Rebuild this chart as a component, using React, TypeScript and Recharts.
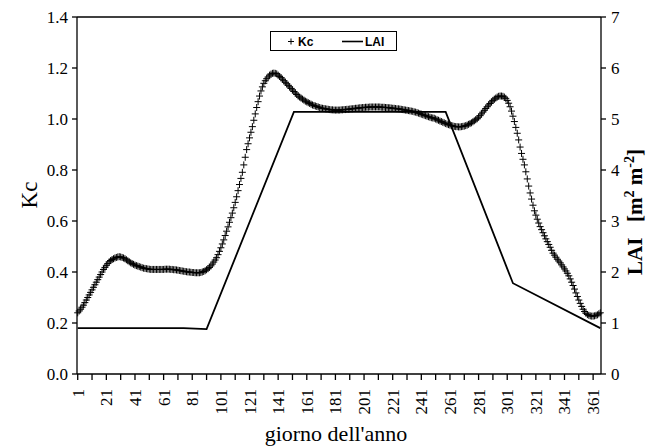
import React from 'react';
import { LineChart, Line, XAxis, YAxis, ReferenceLine, Label } from 'recharts';

// Kc, one value per day of the year (day 1 .. 366)
const kcValues: number[] = [
  0.240, 0.247, 0.254, 0.262, 0.270, 0.280, 0.290, 0.300, 0.310, 0.320,
  0.330, 0.340, 0.350, 0.360, 0.370, 0.380, 0.390, 0.400, 0.410, 0.418,
  0.426, 0.433, 0.440, 0.445, 0.449, 0.452, 0.455, 0.457, 0.459, 0.460,
  0.459, 0.457, 0.455, 0.452, 0.448, 0.444, 0.440, 0.436, 0.433, 0.430,
  0.427, 0.425, 0.423, 0.421, 0.419, 0.417, 0.415, 0.414, 0.413, 0.412,
  0.411, 0.410, 0.410, 0.410, 0.410, 0.410, 0.410, 0.410, 0.410, 0.410,
  0.410, 0.411, 0.411, 0.411, 0.411, 0.410, 0.410, 0.409, 0.409, 0.408,
  0.407, 0.406, 0.405, 0.404, 0.403, 0.402, 0.401, 0.400, 0.400, 0.399,
  0.398, 0.398, 0.397, 0.397, 0.397, 0.397, 0.398, 0.400, 0.402, 0.405,
  0.409, 0.413, 0.418, 0.424, 0.431, 0.439, 0.447, 0.456, 0.468, 0.481,
  0.495, 0.510, 0.526, 0.543, 0.560, 0.577, 0.595, 0.613, 0.631, 0.652,
  0.673, 0.695, 0.719, 0.743, 0.767, 0.791, 0.820, 0.850, 0.880, 0.903,
  0.926, 0.948, 0.970, 0.995, 1.020, 1.045, 1.068, 1.090, 1.110, 1.126,
  1.140, 1.150, 1.158, 1.165, 1.172, 1.176, 1.179, 1.180, 1.179, 1.177,
  1.172, 1.167, 1.162, 1.156, 1.150, 1.144, 1.138, 1.132, 1.126, 1.120,
  1.114, 1.108, 1.102, 1.096, 1.090, 1.086, 1.082, 1.078, 1.074, 1.070,
  1.067, 1.064, 1.061, 1.058, 1.055, 1.053, 1.051, 1.049, 1.047, 1.045,
  1.043, 1.042, 1.041, 1.040, 1.039, 1.038, 1.037, 1.036, 1.036, 1.035,
  1.035, 1.035, 1.035, 1.035, 1.036, 1.036, 1.037, 1.037, 1.038, 1.038,
  1.039, 1.040, 1.040, 1.041, 1.042, 1.042, 1.043, 1.044, 1.044, 1.045,
  1.045, 1.046, 1.046, 1.046, 1.047, 1.047, 1.047, 1.047, 1.047, 1.047,
  1.047, 1.047, 1.046, 1.046, 1.046, 1.045, 1.045, 1.044, 1.044, 1.043,
  1.042, 1.042, 1.041, 1.040, 1.040, 1.039, 1.038, 1.037, 1.036, 1.035,
  1.034, 1.033, 1.032, 1.031, 1.030, 1.028, 1.027, 1.025, 1.023, 1.021,
  1.019, 1.017, 1.015, 1.013, 1.011, 1.009, 1.007, 1.005, 1.004, 1.003,
  1.000, 0.997, 0.995, 0.992, 0.990, 0.987, 0.985, 0.982, 0.980, 0.978,
  0.976, 0.974, 0.973, 0.971, 0.970, 0.970, 0.969, 0.969, 0.970, 0.971,
  0.972, 0.974, 0.976, 0.979, 0.982, 0.985, 0.989, 0.993, 0.997, 1.001,
  1.007, 1.013, 1.020, 1.027, 1.034, 1.041, 1.048, 1.055, 1.061, 1.067,
  1.073, 1.078, 1.082, 1.086, 1.089, 1.090, 1.090, 1.089, 1.086, 1.081,
  1.073, 1.062, 1.048, 1.031, 1.011, 0.990, 0.967, 0.944, 0.918, 0.890,
  0.865, 0.842, 0.820, 0.793, 0.765, 0.737, 0.710, 0.686, 0.662, 0.640,
  0.623, 0.607, 0.592, 0.578, 0.566, 0.554, 0.542, 0.530, 0.519, 0.508,
  0.497, 0.485, 0.474, 0.466, 0.458, 0.450, 0.443, 0.436, 0.428, 0.420,
  0.412, 0.404, 0.395, 0.385, 0.373, 0.360, 0.347, 0.333, 0.318, 0.304,
  0.290, 0.277, 0.265, 0.254, 0.245, 0.238, 0.233, 0.230, 0.228, 0.227,
  0.227, 0.228, 0.230, 0.232, 0.236, 0.240,
];

// LAI break points (day of year, m2 m-2)
const laiDays: number[] = [1, 75, 91, 152, 258, 305, 366];
const laiValues: number[] = [0.9, 0.9, 0.88, 5.14, 5.14, 1.78, 0.9];

// axis ticks
const xTicks: number[] = [1, 11, 21, 31, 41, 51, 61, 71, 81, 91, 101, 111, 121, 131, 141, 151, 161, 171, 181, 191, 201, 211, 221, 231, 241, 251, 261, 271, 281, 291, 301, 311, 321, 331, 341, 351, 361];
const xLabelTicks: number[] = [1, 21, 41, 61, 81, 101, 121, 141, 161, 181, 201, 221, 241, 261, 281, 301, 321, 341, 361];
const kcTicks: number[] = [0, 0.2, 0.4, 0.6, 0.8, 1.0, 1.2, 1.4];
const laiTicks: number[] = [0, 1, 2, 3, 4, 5, 6, 7];

const data = kcValues.map((kc, i) => {
  const day = i + 1;
  const j = laiDays.indexOf(day);
  return { day, kc, lai: j >= 0 ? laiValues[j] : null };
});

const SERIF = 'Liberation Serif, Times New Roman, Times, serif';
const SANS = 'Liberation Sans, Arial, Helvetica, sans-serif';

const PlusDot = (props: any) => {
  const { cx, cy, index } = props;
  if (cx == null || cy == null) return <g key={`k${index}`} />;
  return (
    <path
      key={`k${index}`}
      d={`M${cx - 3.5},${cy}h7M${cx},${cy - 3.5}v7`}
      stroke="#000"
      strokeWidth={1}
      fill="none"
    />
  );
};

const YTick = (props: any) => {
  const { x, y, payload, textAnchor, formatter } = props;
  const label = formatter ? formatter(payload.value) : String(payload.value);
  return (
    <text
      x={x}
      y={y}
      dy="0.35em"
      textAnchor={textAnchor}
      fontSize={17}
      fill="#000"
      style={{ fontFamily: SERIF }}
    >
      {label}
    </text>
  );
};

const XTick = (props: any) => {
  const { x, y, payload } = props;
  const v = payload.value;
  if (!xLabelTicks.includes(v)) return <g />;
  const tx = x + 6;
  const ty = y + 9;
  return (
    <text
      x={tx}
      y={ty}
      transform={`rotate(-90, ${tx}, ${ty})`}
      textAnchor="end"
      fontSize={17}
      fill="#000"
      style={{ fontFamily: SERIF }}
    >
      {v}
    </text>
  );
};

const XTitle = () => (
  <text x={336} y={441} textAnchor="middle" fontSize={22} fill="#000" style={{ fontFamily: SERIF }}>
    giorno dell'anno
  </text>
);

const KcTitle = () => (
  <text
    x={37}
    y={195}
    transform="rotate(-90, 37, 195)"
    textAnchor="middle"
    fontSize={23}
    fill="#000"
    style={{ fontFamily: SERIF }}
  >
    Kc
  </text>
);

const LaiTitle = () => (
  <text
    x={642}
    y={212}
    transform="rotate(-90, 642, 212)"
    textAnchor="middle"
    fontSize={21}
    fontWeight="bold"
    fill="#000"
    style={{ fontFamily: SERIF }}
  >
    <tspan>{'LAI\u00a0\u00a0\u00a0[m'}</tspan>
    <tspan dy={-8} fontSize={14}>2</tspan>
    <tspan dy={8}>{'\u00a0m'}</tspan>
    <tspan dy={-8} fontSize={14}>-2</tspan>
    <tspan dy={8}>]</tspan>
  </text>
);

const fmtKc = (v: number) => v.toFixed(1);

export default function App() {
  return (
    <div style={{ position: 'absolute', left: 0, top: 0, width: 653, height: 446, background: '#fff' }}>
      <LineChart width={653} height={446} data={data} margin={{ top: 17, right: 0, bottom: 0, left: 0 }}>
        <XAxis
          dataKey="day"
          type="number"
          domain={[0.5, 366.5]}
          ticks={xTicks}
          interval={0}
          tick={<XTick />}
          tickSize={6}
          tickMargin={0}
          height={72}
          axisLine={{ stroke: '#000', strokeWidth: 1.3 }}
          tickLine={{ stroke: '#000', strokeWidth: 1.3 }}
          allowDecimals
        >
          <Label content={<XTitle />} />
        </XAxis>
        <YAxis
          yAxisId="left"
          orientation="left"
          domain={[0, 1.4]}
          ticks={kcTicks}
          interval={0}
          width={77}
          tickSize={5}
          tickMargin={4}
          tick={<YTick formatter={fmtKc} />}
          axisLine={{ stroke: '#000', strokeWidth: 1.3 }}
          tickLine={{ stroke: '#000', strokeWidth: 1.3 }}
        >
          <Label content={<KcTitle />} />
        </YAxis>
        <YAxis
          yAxisId="right"
          orientation="right"
          domain={[0, 7]}
          ticks={laiTicks}
          interval={0}
          width={52}
          tickSize={5}
          tickMargin={5}
          tick={<YTick />}
          axisLine={{ stroke: '#000', strokeWidth: 1.3 }}
          tickLine={{ stroke: '#000', strokeWidth: 1.3 }}
        >
          <Label content={<LaiTitle />} />
        </YAxis>
        <ReferenceLine yAxisId="left" y={1.4} stroke="#000" strokeWidth={1.3} />
        <Line
          yAxisId="right"
          dataKey="lai"
          type="linear"
          stroke="#000"
          strokeWidth={1.8}
          dot={false}
          activeDot={false}
          connectNulls
          isAnimationActive={false}
        />
        <Line
          yAxisId="left"
          dataKey="kc"
          type="linear"
          stroke="none"
          dot={PlusDot}
          activeDot={false}
          isAnimationActive={false}
        />
      </LineChart>
      <svg
        width={653}
        height={446}
        style={{ position: 'absolute', left: 0, top: 0, pointerEvents: 'none' }}
      >
        <rect x={270.5} y={31.5} width={126} height={19} fill="#fff" stroke="#000" strokeWidth={1} />
        <path d="M288,41.5h6M291,38.5v6" stroke="#000" strokeWidth={1} />
        <text x={298} y={46} fontSize={12} fontWeight="bold" fill="#000" style={{ fontFamily: SANS }}>Kc</text>
        <line x1={342} x2={363} y1={41.5} y2={41.5} stroke="#000" strokeWidth={1.6} />
        <text x={365} y={46} fontSize={12} fontWeight="bold" fill="#000" style={{ fontFamily: SANS }}>LAI</text>
      </svg>
    </div>
  );
}
